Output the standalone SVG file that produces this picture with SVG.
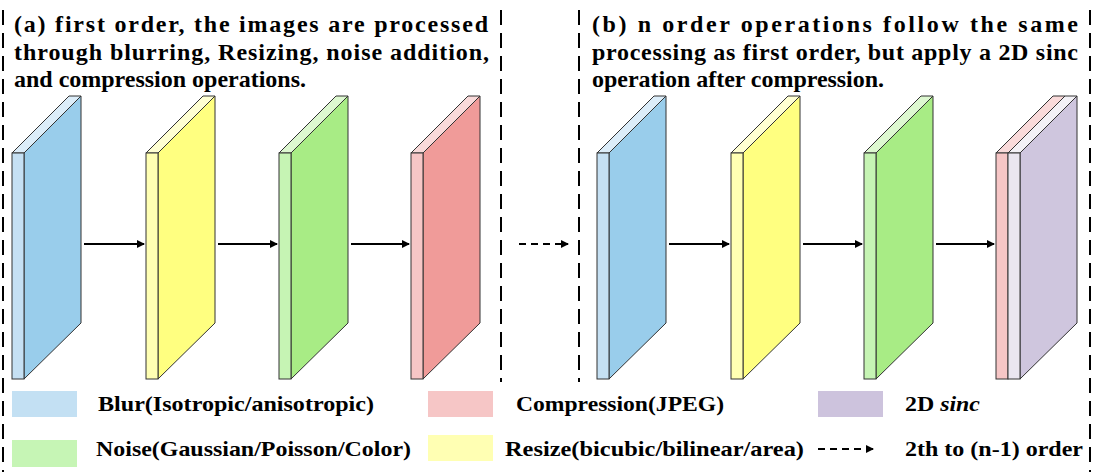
<svg xmlns="http://www.w3.org/2000/svg" width="1094" height="472" viewBox="0 0 1094 472">
<defs>
<style>
.t{font-family:"Liberation Serif","Times New Roman",serif;font-weight:bold;fill:#000}
.h{font-size:24px}
.l{font-size:21px}
.b{stroke:#000;stroke-width:2;stroke-dasharray:15 8;fill:none}
.e{stroke:#333;stroke-width:1;stroke-linejoin:miter}
.a{stroke:#000;stroke-width:2;fill:none}
.ad{stroke:#000;stroke-width:2;fill:none;stroke-dasharray:7 5}
.blueF{fill:#C5E0F3}.blueS{fill:#99CDEB}.blueT{fill:#DCEDF9}
.yelF{fill:#FFFFB3}.yelS{fill:#FFFF80}.yelT{fill:#FFFFD2}
.grnF{fill:#C6F4B4}.grnS{fill:#A8EC85}.grnT{fill:#DDF8D0}
.redF{fill:#F6C6C6}.redS{fill:#F09B99}.redT{fill:#F9DADA}
.purS{fill:#CFC6DE}.whF{fill:#EAE6F0}.whT{fill:#F3F1F6}
</style>
<marker id="ah" markerWidth="8" markerHeight="8" refX="7" refY="4" orient="auto" markerUnits="userSpaceOnUse">
<path d="M0,0 L8,4 L0,8 Z" fill="#000"/>
</marker>
</defs>
<rect width="1094" height="472" fill="#fff"/>

<g id="borders">
<line class="b" x1="3" y1="10" x2="3" y2="472"/>
<line class="b" x1="501" y1="10" x2="501" y2="382"/>
<line class="b" x1="579" y1="10" x2="579" y2="382"/>
<line class="b" x1="1090" y1="10" x2="1090" y2="472"/>
</g>

<g id="title-a" class="t h">
<text x="14" y="32" textLength="474" lengthAdjust="spacing">(a) first order, the images are processed</text>
<text x="14" y="60" textLength="475" lengthAdjust="spacing">through blurring, Resizing, noise addition,</text>
<text x="14" y="87" textLength="292" lengthAdjust="spacing">and compression operations.</text>
</g>
<g id="title-b" class="t h">
<text x="592" y="32" textLength="486" lengthAdjust="spacing">(b) n order operations follow the same</text>
<text x="592" y="60" textLength="486" lengthAdjust="spacing">processing as first order, but apply a 2D sinc</text>
<text x="592" y="87" textLength="292" lengthAdjust="spacing">operation after compression.</text>
</g>

<g id="a-blur">
<polygon class="blueS e" points="24,153 81,96 81,323 24,379"/>
<polygon class="blueT e" points="12,153 69,96 81,96 24,153"/>
<rect class="blueF e" x="12" y="153" width="12" height="226"/>
</g>
<g id="a-resize">
<polygon class="yelS e" points="158,153 215,96 215,323 158,379"/>
<polygon class="yelT e" points="146,153 203,96 215,96 158,153"/>
<rect class="yelF e" x="146" y="153" width="12" height="226"/>
</g>
<g id="a-noise">
<polygon class="grnS e" points="291,153 348,96 348,323 291,379"/>
<polygon class="grnT e" points="279,153 336,96 348,96 291,153"/>
<rect class="grnF e" x="279" y="153" width="12" height="226"/>
</g>
<g id="a-compression">
<polygon class="redS e" points="423,153 480,96 480,323 423,379"/>
<polygon class="redT e" points="411,153 468,96 480,96 423,153"/>
<rect class="redF e" x="411" y="153" width="12" height="226"/>
</g>

<g id="b-blur">
<polygon class="blueS e" points="609,153 666,96 666,323 609,379"/>
<polygon class="blueT e" points="597,153 654,96 666,96 609,153"/>
<rect class="blueF e" x="597" y="153" width="12" height="226"/>
</g>
<g id="b-resize">
<polygon class="yelS e" points="743,153 800,96 800,323 743,379"/>
<polygon class="yelT e" points="731,153 788,96 800,96 743,153"/>
<rect class="yelF e" x="731" y="153" width="12" height="226"/>
</g>
<g id="b-noise">
<polygon class="grnS e" points="876,153 933,96 933,323 876,379"/>
<polygon class="grnT e" points="864,153 921,96 933,96 876,153"/>
<rect class="grnF e" x="864" y="153" width="12" height="226"/>
</g>
<g id="b-compression-sinc">
<polygon class="purS e" points="1020,153 1077,96 1077,323 1020,379"/>
<polygon class="redT e" points="996,153 1053,96 1065,96 1008,153"/>
<polygon class="whT e" points="1008,153 1065,96 1077,96 1020,153"/>
<rect class="redF e" x="996" y="153" width="12" height="226"/>
<rect class="whF e" x="1008" y="153" width="12" height="226"/>
</g>

<g id="connectors">
<line class="a" x1="84" y1="244" x2="144" y2="244" marker-end="url(#ah)"/>
<line class="a" x1="218" y1="244" x2="277" y2="244" marker-end="url(#ah)"/>
<line class="a" x1="351" y1="244" x2="409" y2="244" marker-end="url(#ah)"/>
<line class="ad" x1="519" y1="244" x2="568" y2="244" marker-end="url(#ah)"/>
<line class="a" x1="669" y1="244" x2="729" y2="244" marker-end="url(#ah)"/>
<line class="a" x1="803" y1="244" x2="862" y2="244" marker-end="url(#ah)"/>
<line class="a" x1="936" y1="244" x2="994" y2="244" marker-end="url(#ah)"/>
</g>

<g id="legend">
<rect x="12" y="391" width="65" height="26" fill="#C3E0F3"/>
<text class="t l" x="98" y="411" textLength="276" lengthAdjust="spacingAndGlyphs">Blur(Isotropic/anisotropic)</text>
<rect x="12" y="440" width="65" height="27" fill="#C6F5B5"/>
<text class="t l" x="96" y="456" textLength="315" lengthAdjust="spacingAndGlyphs">Noise(Gaussian/Poisson/Color)</text>
<rect x="428" y="391" width="65" height="26" fill="#F6C6C6"/>
<text class="t l" x="516" y="411" textLength="208" lengthAdjust="spacingAndGlyphs">Compression(JPEG)</text>
<rect x="428" y="435" width="65" height="26" fill="#FFFFB3"/>
<text class="t l" x="505" y="456" textLength="299" lengthAdjust="spacingAndGlyphs">Resize(bicubic/bilinear/area)</text>
<rect x="818" y="391" width="65" height="26" fill="#CDC3DD"/>
<text class="t l" x="905" y="411" textLength="75" lengthAdjust="spacingAndGlyphs">2D <tspan font-style="italic">sinc</tspan></text>
<line class="ad" x1="818" y1="449" x2="873" y2="449" marker-end="url(#ah)"/>
<text class="t l" x="905" y="456" textLength="178" lengthAdjust="spacingAndGlyphs">2th to (n-1) order</text>
</g>
</svg>
